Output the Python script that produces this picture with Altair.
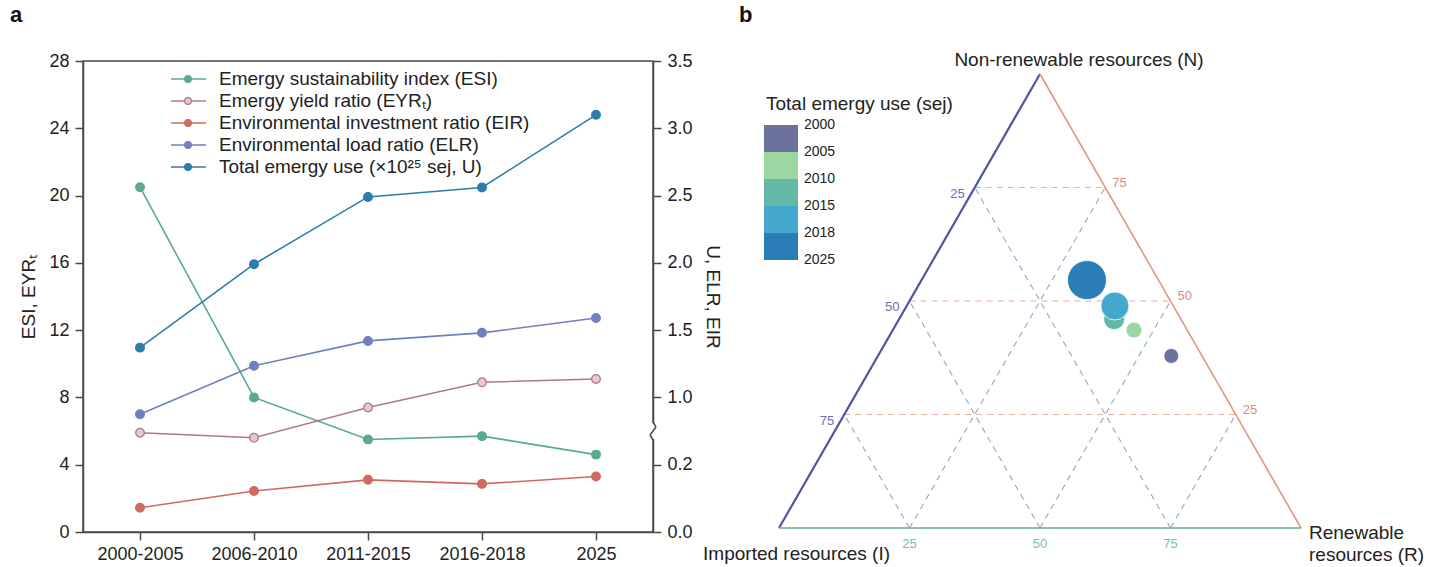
import altair as alt
import pandas as pd

FONT = "Liberation Sans"
TXT = "#222222"
AXC = "#4a4a4a"

# ---------------- panel a data ----------------
periods = ["2000-2005", "2006-2010", "2011-2015", "2016-2018", "2025"]
esi = [20.5, 8.0, 5.5, 5.7, 4.6]
eyr = [5.9, 5.6, 7.4, 8.9, 9.1]
eir = [0.072, 0.122, 0.155, 0.143, 0.165]
elr = [0.80, 1.235, 1.42, 1.48, 1.59]
u_total = [1.37, 1.99, 2.49, 2.56, 3.10]

series_names = [
    "Emergy sustainability index (ESI)",
    "Emergy yield ratio (EYRₜ)",
    "Environmental investment ratio (EIR)",
    "Environmental load ratio (ELR)",
    "Total emergy use (×10²⁵ sej, U)",
]
series_colors = ["#5aa994", "#ad7a8b", "#d06a60", "#717fc0", "#2c7dab"]
series_fills = ["#5aa994", "#e6c8d0", "#d06a60", "#717fc0", "#2c7dab"]

left_ticks = [0, 4, 8, 12, 16, 20, 24, 28]
right_ticks = [0.0, 0.2, 1.0, 1.5, 2.0, 2.5, 3.0, 3.5]
right_breaks = [0.0, 0.2, 1.0, 3.5]

# ---------------- panel b data ----------------
bubble_colors = ["#6b739d", "#9bd6a3", "#65b7a8", "#45a8cf", "#2a7db5"]
bubble_N = [37.9, 43.6, 46.0, 48.9, 54.6]
bubble_R = [56.2, 46.2, 41.2, 39.9, 31.7]
bubble_emergy = [0.44, 0.50, 0.87, 1.55, 3.00]
legend_years = ["2000", "2005", "2010", "2015", "2018", "2025"]
grid_levels = [25, 50, 75]

# =====================================================
# Panel a
# =====================================================
WA, HA = 570, 471

left_df = pd.DataFrame({
    "period": periods * 2,
    "series": [series_names[0]] * 5 + [series_names[1]] * 5,
    "value": esi + eyr,
})
right_df = pd.DataFrame({
    "period": periods * 3,
    "series": [series_names[2]] * 5 + [series_names[3]] * 5 + [series_names[4]] * 5,
    "value": eir + elr + u_total,
})

color_sc = alt.Scale(domain=series_names, range=series_colors)
fill_sc = alt.Scale(domain=series_names, range=series_fills)

axis_common = dict(
    labelFontSize=18, labelColor=TXT, labelFont=FONT,
    tickSize=8, tickWidth=1.5, tickColor=AXC,
    domainColor=AXC, domainWidth=1.5, grid=False,
    titleFont=FONT, titleFontSize=19, titleFontWeight="normal", titleColor=TXT,
)

x_a = alt.X(
    "period:N", sort=periods,
    scale=alt.Scale(type="point", domain=periods, padding=0.5),
    axis=alt.Axis(title=None, labelAngle=0, labelPadding=5, **axis_common),
)

y_left = alt.Y(
    "value:Q",
    scale=alt.Scale(domain=[0, 28], nice=False),
    axis=alt.Axis(orient="left", values=left_ticks, title="ESI, EYRₜ",
                  labelPadding=6, titlePadding=10, **axis_common),
)
y_right = alt.Y(
    "value:Q",
    scale=alt.Scale(domain=right_breaks,
                    range=[HA, HA - HA * 4 / 28, HA - HA * 8 / 28, 0],
                    nice=False, zero=False),
    axis=alt.Axis(orient="right", values=right_ticks, format=".1f",
                  title="U, ELR, EIR", labelPadding=6, titlePadding=10, **axis_common),
)


def series_layer(df, y_enc):
    line = alt.Chart(df).mark_line(strokeWidth=1.6).encode(
        x=x_a, y=y_enc,
        color=alt.Color("series:N", scale=color_sc, legend=None),
    )
    pts = alt.Chart(df).mark_point(filled=True, size=75, strokeWidth=1.3, opacity=1).encode(
        x=x_a, y=y_enc,
        fill=alt.Fill("series:N", scale=fill_sc, legend=None),
        stroke=alt.Stroke("series:N", scale=color_sc, legend=None),
    )
    return alt.layer(line, pts)


left_layer = series_layer(left_df, y_left)
right_layer = series_layer(right_df, y_right)

# legend (inside plot, top-left)
leg_df = pd.DataFrame({"series": series_names})
leg_y = alt.Y("series:N", sort=series_names,
              scale=alt.Scale(type="point", domain=series_names, range=[18, 106], padding=0),
              axis=None)
leg_rule = alt.Chart(leg_df).mark_rule(strokeWidth=1.6).encode(
    x=alt.value(88), x2=alt.value(123), y=leg_y,
    color=alt.Color("series:N", scale=color_sc, legend=None),
)
leg_pt = alt.Chart(leg_df).mark_point(filled=True, size=45, strokeWidth=1.2, opacity=1).encode(
    x=alt.value(105), y=leg_y,
    fill=alt.Fill("series:N", scale=fill_sc, legend=None),
    stroke=alt.Stroke("series:N", scale=color_sc, legend=None),
)
leg_txt = alt.Chart(leg_df).mark_text(align="left", baseline="middle", fontSize=19,
                                      font=FONT, color=TXT).encode(
    x=alt.value(136), y=leg_y, text="series:N",
)
legend_a = alt.layer(leg_rule, leg_pt, leg_txt)

# axis-break zigzag on the right axis
one = pd.DataFrame({"k": [0]})
brk_rect = alt.Chart(one).mark_rect(color="white").encode(
    x=alt.value(WA - 4), x2=alt.value(WA + 4), y=alt.value(362), y2=alt.value(378))
brk_1 = alt.Chart(one).mark_rule(color=AXC, strokeWidth=1.5).encode(
    x=alt.value(WA), x2=alt.value(WA + 3), y=alt.value(361), y2=alt.value(366))
brk_2 = alt.Chart(one).mark_rule(color=AXC, strokeWidth=1.5).encode(
    x=alt.value(WA + 3), x2=alt.value(WA - 3), y=alt.value(366), y2=alt.value(374))
brk_3 = alt.Chart(one).mark_rule(color=AXC, strokeWidth=1.5).encode(
    x=alt.value(WA - 3), x2=alt.value(WA), y=alt.value(374), y2=alt.value(379))
label_a = alt.Chart(one).mark_text(text="a", fontSize=22, fontWeight="bold", align="left",
                                   baseline="top", font=FONT, color="#111111").encode(
    x=alt.value(-73), y=alt.value(-56))

panel_a = alt.layer(left_layer, right_layer, legend_a, brk_rect, brk_1, brk_2, brk_3,
                    label_a).resolve_scale(
    y="independent"
).properties(width=WA, height=HA, view=alt.ViewBackground(stroke=AXC, strokeWidth=1.5))

# =====================================================
# Panel b (ternary)
# =====================================================
WB, HB = 522, 467
xs_t = alt.Scale(domain=[0, 100], nice=False, zero=False)
ys_t = alt.Scale(domain=[0, 100], range=[HB, HB - 454], nice=False, zero=False)

TERN = ["datum.R + datum.N / 2", "datum.N"]


def tern_points(df):
    return alt.Chart(df).transform_calculate(px=TERN[0], py=TERN[1])


def seg_chart(rows, **mark_kw):
    df = pd.DataFrame(rows)
    return alt.Chart(df).transform_calculate(
        x1="datum.R1 + datum.N1 / 2", y1="datum.N1",
        x2="datum.R2 + datum.N2 / 2", y2="datum.N2",
    ).mark_rule(**mark_kw).encode(
        x=alt.X("x1:Q", scale=xs_t, axis=None),
        y=alt.Y("y1:Q", scale=ys_t, axis=None),
        x2="x2:Q", y2="y2:Q",
    )


grid_N = seg_chart([dict(N1=k, R1=0, N2=k, R2=100 - k) for k in grid_levels],
                   strokeDash=[6, 5], strokeWidth=1.1, color="#e8ae9f")
grid_diag = seg_chart(
    [dict(N1=0, R1=k, N2=100 - k, R2=k) for k in grid_levels]
    + [dict(N1=0, R1=100 - k, N2=100 - k, R2=0) for k in grid_levels],
    strokeDash=[6, 5], strokeWidth=1.1, color="#8aa9cc")

edge_left = seg_chart([dict(N1=0, R1=0, N2=100, R2=0)], strokeWidth=2.2, color="#4f56a1")
edge_right = seg_chart([dict(N1=100, R1=0, N2=0, R2=100)], strokeWidth=1.6, color="#e39684")
edge_bottom = seg_chart([dict(N1=0, R1=0, N2=0, R2=100)], strokeWidth=1.6, color="#64aa9b")


def tick_text(rows, color, **kw):
    df = pd.DataFrame(rows)
    return tern_points(df).mark_text(fontSize=13, font=FONT, color=color, **kw).encode(
        x=alt.X("px:Q", scale=xs_t, axis=None),
        y=alt.Y("py:Q", scale=ys_t, axis=None),
        text="label:N",
    )


ticks_I = tick_text([dict(N=100 - k, R=0, label=str(k)) for k in grid_levels], "#6a70b5",
                    align="right", baseline="middle", dx=-10, dy=6)
ticks_N = tick_text([dict(N=k, R=100 - k, label=str(k)) for k in grid_levels], "#d98c80",
                    align="left", baseline="middle", dx=7, dy=-5)
ticks_R = tick_text([dict(N=0, R=k, label=str(k)) for k in grid_levels], "#79bfa8",
                    align="center", baseline="middle", dy=16)

title_N = tern_points(pd.DataFrame([dict(N=100, R=0)])).mark_text(
    text="Non-renewable resources (N)", fontSize=19, font=FONT, color=TXT,
    align="center", baseline="middle", dx=39, dy=-14).encode(
    x=alt.X("px:Q", scale=xs_t, axis=None), y=alt.Y("py:Q", scale=ys_t, axis=None))
title_I = tern_points(pd.DataFrame([dict(N=0, R=0)])).mark_text(
    text="Imported resources (I)", fontSize=19, font=FONT, color=TXT,
    align="right", baseline="middle", dx=111, dy=26).encode(
    x=alt.X("px:Q", scale=xs_t, axis=None), y=alt.Y("py:Q", scale=ys_t, axis=None))
title_R = tern_points(pd.DataFrame([dict(N=0, R=100)])).mark_text(
    text=["Renewable", "resources (R)"], fontSize=19, font=FONT, color=TXT, lineHeight=22,
    align="left", baseline="top", dx=8, dy=-4).encode(
    x=alt.X("px:Q", scale=xs_t, axis=None), y=alt.Y("py:Q", scale=ys_t, axis=None))

bub_df = pd.DataFrame({"period": periods, "N": bubble_N, "R": bubble_R, "emergy": bubble_emergy})
bub_color = alt.Scale(domain=periods, range=bubble_colors)
bubbles = tern_points(bub_df).mark_circle(opacity=1, stroke="white", strokeWidth=0.8).encode(
    x=alt.X("px:Q", scale=xs_t, axis=None),
    y=alt.Y("py:Q", scale=ys_t, axis=None),
    color=alt.Color("period:N", scale=bub_color, legend=None),
    size=alt.Size("emergy:Q", scale=alt.Scale(domain=[0, 3.0], range=[0, 1521]), legend=None),
)

tri = alt.layer(grid_N, grid_diag, edge_left, edge_right, edge_bottom,
                ticks_I, ticks_N, ticks_R, title_N, title_I, title_R, bubbles)

# colour legend for the bubbles
lg_df = pd.DataFrame({"period": periods})
lg_rect = alt.Chart(lg_df).mark_rect().encode(
    x=alt.value(-15), x2=alt.value(19),
    y=alt.Y("period:N", sort=periods,
            scale=alt.Scale(type="band", domain=periods, range=[64, 199],
                            paddingInner=0, paddingOuter=0), axis=None),
    color=alt.Color("period:N", scale=bub_color, legend=None),
)
ly_df = pd.DataFrame({"year": legend_years})
lg_lab = alt.Chart(ly_df).mark_text(align="left", baseline="middle", fontSize=14,
                                    font=FONT, color=TXT).encode(
    x=alt.value(25),
    y=alt.Y("year:N", sort=legend_years,
            scale=alt.Scale(type="point", domain=legend_years, range=[64, 199], padding=0),
            axis=None),
    text="year:N",
)
lg_title = alt.Chart(one).mark_text(text="Total emergy use (sej)", align="left", baseline="middle",
                                    fontSize=19, font=FONT, color=TXT).encode(
    x=alt.value(-13), y=alt.value(43))
label_b = alt.Chart(one).mark_text(text="b", fontSize=22, fontWeight="bold", align="left",
                                   baseline="top", font=FONT, color="#111111").encode(
    x=alt.value(-40), y=alt.value(-56))

panel_b = alt.layer(tri, lg_rect, lg_lab, lg_title, label_b).resolve_scale(
    y="independent"
).properties(width=WB, height=HB, view=alt.ViewBackground(stroke="transparent"))

chart = alt.hconcat(panel_a, panel_b, spacing=126, bounds="flush").resolve_scale(
    color="independent", fill="independent", stroke="independent", size="independent"
).properties(
    padding={"left": 9, "top": 3, "right": 5, "bottom": 3}
).configure(font=FONT)

chart.save("out.html", embed_options={"renderer": "svg", "actions": False})
